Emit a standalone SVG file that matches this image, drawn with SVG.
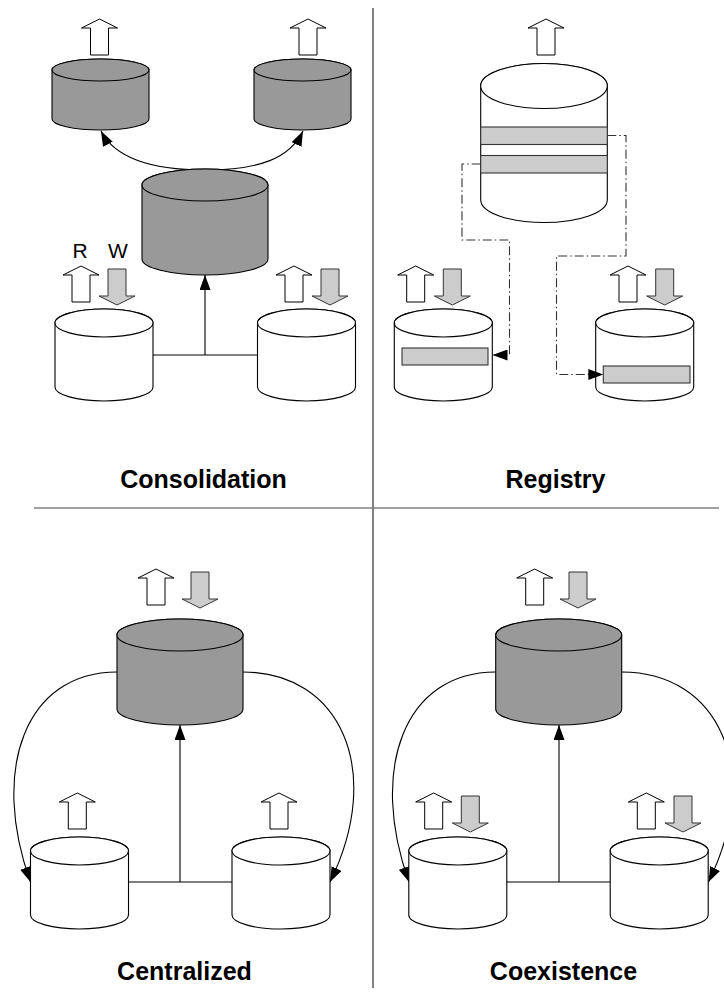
<svg xmlns="http://www.w3.org/2000/svg" width="724" height="992" viewBox="0 0 724 992">
  <style>
    .ln { fill: none; stroke: #000; stroke-width: 1.1; }
    .dd { fill: none; stroke: #333; stroke-width: 1.1; stroke-dasharray: 9 3 1.5 3; }
    .div { stroke: #808080; fill: none; }
    .band { fill: #cccccc; stroke: #333; stroke-width: 1.1; }
    .title { font-family: "Liberation Sans", Arial, sans-serif; font-weight: bold; font-size: 25px; text-anchor: middle; fill: #000; }
    .lbl { font-family: "Liberation Sans", Arial, sans-serif; font-size: 21px; text-anchor: middle; fill: #000; }
  </style>
  <defs>
    <marker id="ah" markerWidth="16" markerHeight="11" refX="15" refY="5.5" orient="auto" markerUnits="userSpaceOnUse">
      <path d="M0,0 L15,5.5 L0,11 Z" fill="#000"/>
    </marker>
    <!-- small white cylinder, origin = centre of top ellipse -->
    <g id="cyl-s" stroke="#000" stroke-width="1.1">
      <path d="M-49,0 V64 A49,14 0 0 0 49,64 V0 A49,14 0 0 0 -49,0 Z" fill="#fff"/>
      <ellipse cx="0" cy="0" rx="49" ry="14" fill="#fff"/>
    </g>
    <!-- medium dark cylinder -->
    <g id="cyl-m" stroke="#000" stroke-width="1.1">
      <path d="M-48.5,0 V49 A48.5,11 0 0 0 48.5,49 V0 A48.5,11 0 0 0 -48.5,0 Z" fill="#999999"/>
      <ellipse cx="0" cy="0" rx="48.5" ry="11" fill="#999999"/>
    </g>
    <!-- large dark cylinder -->
    <g id="cyl-l" stroke="#000" stroke-width="1.1">
      <path d="M-63,0 V74 A63,16 0 0 0 63,74 V0 A63,16 0 0 0 -63,0 Z" fill="#999999"/>
      <ellipse cx="0" cy="0" rx="63" ry="16" fill="#999999"/>
    </g>
    <!-- read (up) and write (down) block arrows, origin = top-left -->
    <polygon id="up" points="18,0 36,9 27,9 27,36 9,36 9,9 0,9" fill="#fff" stroke="#000" stroke-width="1"/>
    <polygon id="down" points="9,0 27,0 27,27 36,27 18,36 0,27 9,27" fill="#cccccc" stroke="#333" stroke-width="1"/>
  </defs>

  <rect width="724" height="992" fill="#fff"/>

  <!-- quadrant dividers -->
  <g id="dividers">
    <line class="div" x1="373" y1="8" x2="373" y2="988" stroke-width="2"/>
    <line class="div" x1="34" y1="508" x2="719" y2="508" stroke-width="1.6"/>
  </g>

  <!-- ===== Consolidation ===== -->
  <g id="connectors-consolidation">
    <path class="ln" d="M205,170 C150,170 115,158 101,131" marker-end="url(#ah)"/>
    <path class="ln" d="M205,170 C260,170 290,158 303,131" marker-end="url(#ah)"/>
    <path class="ln" d="M153,355 H258"/>
    <path class="ln" d="M205,355 V275" marker-end="url(#ah)"/>
  </g>
  <g id="con-hub-left"><use href="#cyl-m" x="100.5" y="70"/><use href="#up" x="81.5" y="19"/></g>
  <g id="con-hub-right"><use href="#cyl-m" x="302.5" y="70"/><use href="#up" x="290" y="19"/></g>
  <g id="con-central"><use href="#cyl-l" x="205" y="185"/></g>
  <g id="con-source-left">
    <use href="#cyl-s" x="104" y="323"/>
    <use href="#up" x="63" y="266"/>
    <use href="#down" x="99" y="269"/>
    <text class="lbl" x="80" y="258">R</text>
    <text class="lbl" x="118" y="258">W</text>
  </g>
  <g id="con-source-right">
    <use href="#cyl-s" x="306.5" y="323"/>
    <use href="#up" x="276" y="266"/>
    <use href="#down" x="312" y="269"/>
  </g>
  <text class="title" x="203.5" y="488">Consolidation</text>

  <!-- ===== Registry ===== -->
  <g id="reg-index">
    <use href="#up" x="528" y="19"/>
    <path d="M480.7,86 V200 A63.3,22.5 0 0 0 607.3,200 V86 A63.3,22.5 0 0 0 480.7,86 Z" fill="#fff" stroke="#000" stroke-width="1.1"/>
    <ellipse cx="544" cy="86" rx="63.3" ry="22.5" fill="#fff" stroke="#000" stroke-width="1.1"/>
    <rect class="band" x="480.7" y="127" width="126.6" height="17.5"/>
    <rect class="band" x="480.7" y="155.5" width="126.6" height="17.5"/>
  </g>
  <g id="reg-source-left">
    <use href="#cyl-s" x="443.3" y="323"/>
    <rect class="band" x="402" y="348" width="86" height="17"/>
    <use href="#up" x="397.7" y="266"/>
    <use href="#down" x="434.3" y="269"/>
  </g>
  <g id="reg-source-right">
    <use href="#cyl-s" x="644.7" y="323"/>
    <rect class="band" x="603.3" y="366" width="86.7" height="17"/>
    <use href="#up" x="610" y="266"/>
    <use href="#down" x="646.7" y="269"/>
  </g>
  <g id="connectors-registry">
    <path class="dd" d="M480.7,164 H462 V240 H509.5 V355 H492.5" marker-end="url(#ah)"/>
    <path class="dd" d="M607.3,135.5 H626 V256 H556.5 V374.5 H603.3" marker-end="url(#ah)"/>
  </g>
  <text class="title" x="555.5" y="488">Registry</text>

  <!-- ===== Centralized ===== -->
  <g id="connectors-centralized">
    <path class="ln" d="M117,672 C25,672 -10,770 30.5,882" marker-end="url(#ah)"/>
    <path class="ln" d="M243,672 C340,672 385,770 330,882" marker-end="url(#ah)"/>
    <path class="ln" d="M128.5,882 H232"/>
    <path class="ln" d="M180,882 V725" marker-end="url(#ah)"/>
  </g>
  <g id="cen-hub">
    <use href="#cyl-l" x="180" y="635"/>
    <use href="#up" x="138" y="569"/>
    <use href="#down" x="182" y="572"/>
  </g>
  <g id="cen-source-left"><use href="#cyl-s" x="79.5" y="851"/><use href="#up" x="59.3" y="793"/></g>
  <g id="cen-source-right"><use href="#cyl-s" x="281" y="851"/><use href="#up" x="261" y="793"/></g>
  <text class="title" x="184.5" y="980">Centralized</text>

  <!-- ===== Coexistence ===== -->
  <g id="connectors-coexistence">
    <path class="ln" d="M495.7,672 C403.7,672 368.7,770 409,882" marker-end="url(#ah)"/>
    <path class="ln" d="M621.7,672 C718.7,672 763.7,770 708.5,882" marker-end="url(#ah)"/>
    <path class="ln" d="M506.7,882 H610"/>
    <path class="ln" d="M559,882 V725" marker-end="url(#ah)"/>
  </g>
  <g id="coe-hub">
    <use href="#cyl-l" x="558.7" y="635"/>
    <use href="#up" x="516.7" y="569"/>
    <use href="#down" x="560" y="572"/>
  </g>
  <g id="coe-source-left">
    <use href="#cyl-s" x="457.8" y="851"/>
    <use href="#up" x="415.7" y="793"/>
    <use href="#down" x="452.3" y="796"/>
  </g>
  <g id="coe-source-right">
    <use href="#cyl-s" x="659.2" y="851"/>
    <use href="#up" x="628.3" y="793"/>
    <use href="#down" x="665" y="796"/>
  </g>
  <text class="title" x="563.5" y="980">Coexistence</text>
</svg>
